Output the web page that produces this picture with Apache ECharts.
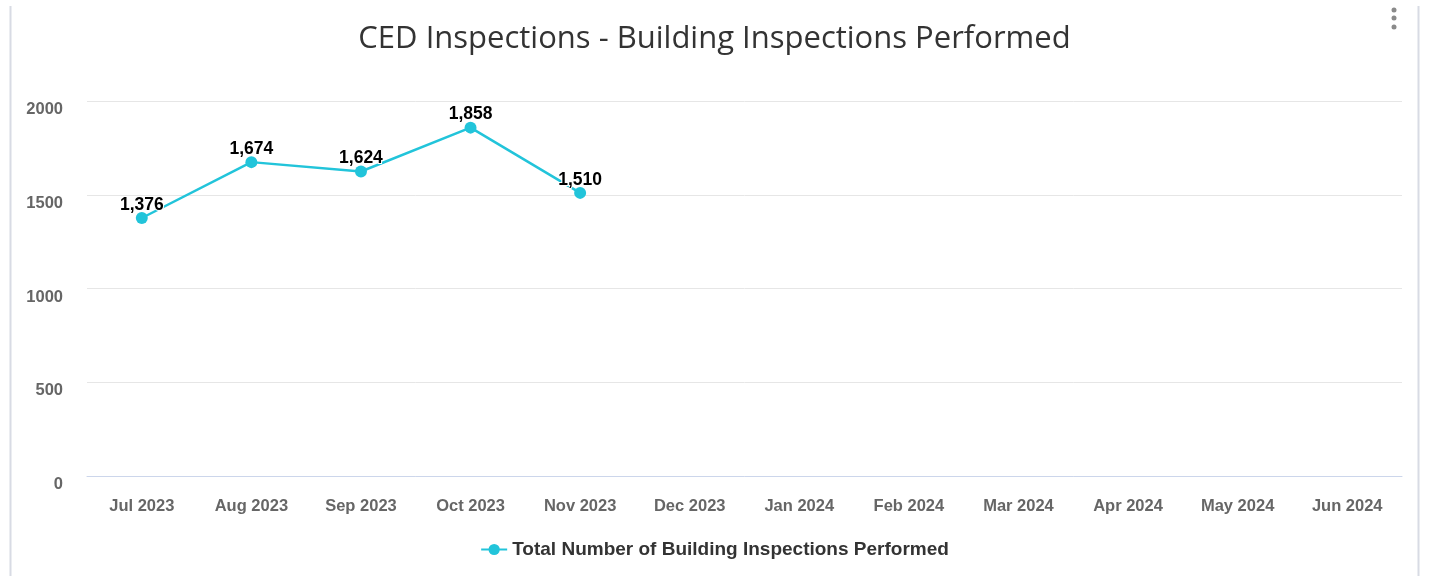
<!DOCTYPE html>
<html><head><meta charset="utf-8">
<script src="https://cdn.jsdelivr.net/npm/echarts@6/dist/echarts.min.js"></script>
<style>html,body{margin:0;padding:0;background:#fff}#c{width:1429px;height:576px}</style>
</head><body><div id="c"></div>
<script>
const categories = ['Jul 2023','Aug 2023','Sep 2023','Oct 2023','Nov 2023','Dec 2023','Jan 2024','Feb 2024','Mar 2024','Apr 2024','May 2024','Jun 2024'];
const inspections = [1376, 1674, 1624, 1858, 1510, null, null, null, null, null, null, null];
const yTicks = [0, 500, 1000, 1500, 2000];
const seriesName = 'Total Number of Building Inspections Performed';
const titleText = 'CED Inspections - Building Inspections Performed';

const chart = echarts.init(document.getElementById('c'));
chart.setOption({
  animation: false,
  title: {
    text: titleText, left: 'center', top: 19,
    textStyle: {fontFamily: 'Open Sans', fontSize: 31, fontWeight: 'normal', color: '#333333'}
  },
  legend: {
    bottom: 12, left: 'center', itemWidth: 26, itemHeight: 14, itemGap: 10,
    textStyle: {fontFamily: 'Liberation Sans', fontSize: 19, fontWeight: 'bold', color: '#333333'},
    data: [seriesName]
  },
  grid: {left: 87, right: 27, top: 101, bottom: 100, containLabel: false},
  xAxis: {
    type: 'category', data: categories, boundaryGap: true,
    axisLine: {lineStyle: {color: '#ccd6eb', width: 1}},
    axisTick: {show: false},
    axisLabel: {fontFamily: 'Liberation Sans', fontSize: 16.5, fontWeight: 'bold', color: '#666666', margin: 22}
  },
  yAxis: {
    type: 'value', min: 0, max: 2000, interval: 500,
    axisLine: {show: false}, axisTick: {show: false},
    splitLine: {lineStyle: {color: '#e6e6e6'}},
    axisLabel: {fontFamily: 'Liberation Sans', fontSize: 16.5, fontWeight: 'bold', color: '#666666', margin: 24, verticalAlign: 'top',
      formatter: v => yTicks.includes(v) ? String(v) : ''}
  },
  series: [{
    name: seriesName, type: 'line', data: inspections,
    connectNulls: false,
    symbol: 'circle', symbolSize: 12,
    lineStyle: {color: '#22c4da', width: 2.5},
    itemStyle: {color: '#22c4da'},
    label: {show: true, position: 'top', distance: -2,
      fontFamily: 'Liberation Sans', fontSize: 17.5, fontWeight: 'bold', color: '#000000',
      textBorderColor: '#ffffff', textBorderWidth: 2,
      formatter: p => p.value == null ? '' : p.value.toLocaleString('en-US')}
  }],
  graphic: [
    {type: 'line', shape: {x1: 10.5, y1: 6, x2: 10.5, y2: 576}, style: {stroke: '#d8dbe4', lineWidth: 2}},
    {type: 'line', shape: {x1: 1418.5, y1: 6, x2: 1418.5, y2: 576}, style: {stroke: '#d8dbe4', lineWidth: 2}},
    {type: 'circle', shape: {cx: 1394, cy: 10, r: 2.5}, style: {fill: '#8a8a8a'}},
    {type: 'circle', shape: {cx: 1394, cy: 18, r: 2.5}, style: {fill: '#8a8a8a'}},
    {type: 'circle', shape: {cx: 1394, cy: 27, r: 2.5}, style: {fill: '#8a8a8a'}}
  ]
});
</script></body></html>
